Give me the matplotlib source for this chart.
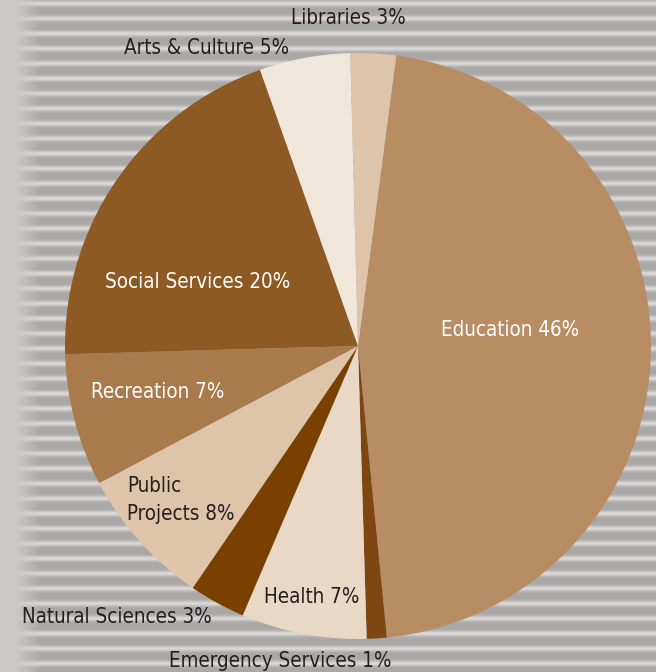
import numpy as np
import matplotlib
matplotlib.use("Agg")
import matplotlib.pyplot as plt

# ---- data (shares, labels as printed) ----
categories = ["Education", "Emergency Services", "Health", "Natural Sciences",
              "Public Projects", "Recreation", "Social Services",
              "Arts & Culture", "Libraries"]
shares = [46.3, 1.1, 6.9, 3.1, 7.7, 7.3, 20.0, 5.0, 2.5]
pct_labels = ["46%", "1%", "7%", "3%", "8%", "7%", "20%", "5%", "3%"]
colors = ["#B88D64", "#7E4711", "#E9D8C6", "#7A4000", "#DEC4A8",
          "#A87A4C", "#8E5A24", "#F0E6DA", "#DEC4AA"]

W, H = 656, 672
fig = plt.figure(figsize=(W / 100, H / 100), dpi=100)

# background: corrugated cardboard look
bg = fig.add_axes([0, 0, 1, 1])
yy = np.arange(H)[:, None]
xx = np.arange(W)[None, :]
stripe = 0.5 + 0.5 * np.cos(2 * np.pi * (yy - 3) / 15.0)
val = 0.67 + 0.19 * stripe ** 3 + 0 * xx
left = np.clip((40 - xx) / 25.0, 0, 1)
val = val * (1 - left) + 0.80 * left
img = np.dstack([val * 1.0, val * 0.982, val * 0.982])
bg.imshow(np.clip(img, 0, 1), extent=[0, W, 0, H], aspect="auto", origin="upper",
          interpolation="bilinear")
bg.set_xlim(0, W)
bg.set_ylim(0, H)
bg.axis("off")

ax = fig.add_axes([0, 0, 1, 1])
ax.patch.set_alpha(0)

cx, cy, r = 358, H - 346, 293
ax.pie(shares, colors=colors, startangle=82.5, counterclock=False,
       center=(cx, cy), radius=r, frame=True,
       wedgeprops=dict(linewidth=0))
ax.set_xlim(0, W)
ax.set_ylim(0, H)
ax.set_aspect("equal")
ax.axis("off")

font = ["DejaVu Sans"]
dark = "#231F20"
fs = 14.8
kw = dict(fontsize=fs, family=font, fontstretch="condensed")

def lab(i):
    return f"{categories[i]} {pct_labels[i]}"

ax.text(348, H - 18, lab(8), ha="center", va="center", color=dark, **kw)
ax.text(207, H - 48, lab(7), ha="center", va="center", color=dark, **kw)
ax.text(198, H - 282, lab(6), ha="center", va="center", color="white", **kw)
ax.text(510, H - 330, lab(0), ha="center", va="center", color="white", **kw)
ax.text(158, H - 392, lab(5), ha="center", va="center", color="white", **kw)
ax.text(127, H - 500, "Public\nProjects " + pct_labels[4], ha="left", va="center",
        color=dark, linespacing=1.45, **kw)
ax.text(312, H - 597, lab(2), ha="center", va="center", color=dark, **kw)
ax.text(117, H - 617, lab(3), ha="center", va="center", color=dark, **kw)
ax.text(280, H - 661, lab(1), ha="center", va="center", color=dark, **kw)

fig.savefig("out.png", dpi=100)
